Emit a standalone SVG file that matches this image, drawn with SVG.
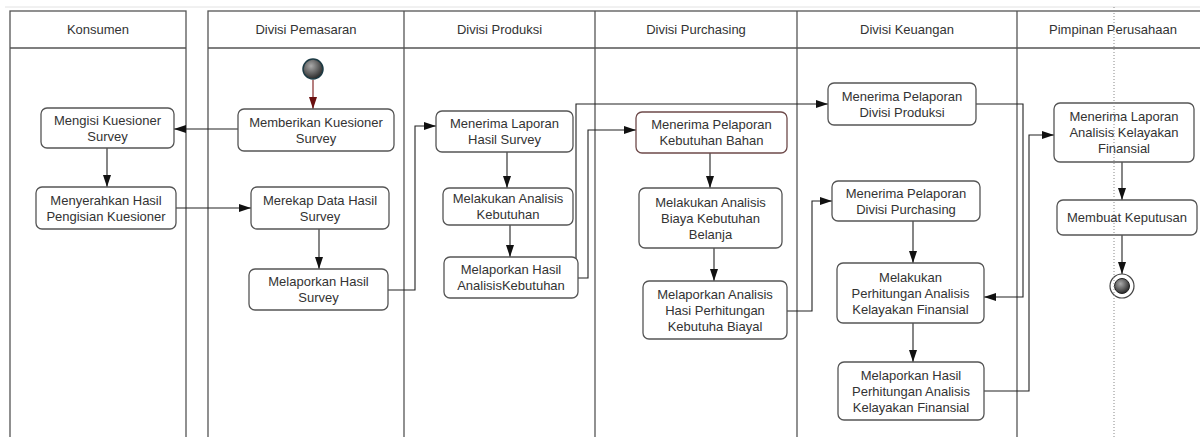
<svg xmlns="http://www.w3.org/2000/svg" width="1200" height="437" viewBox="0 0 1200 437">
<style>
.lane{fill:none;stroke:#555;stroke-width:1.3}
.node rect{fill:#fff;stroke:#555;stroke-width:1.3}
text{font-family:"Liberation Sans",Arial,sans-serif;font-size:13px;fill:#333;text-anchor:middle}
.con{fill:none;stroke:#222;stroke-width:1.1}
</style>
<defs>
<marker id="arr" markerUnits="userSpaceOnUse" markerWidth="13" markerHeight="9" refX="12" refY="4" orient="auto"><path d="M0,0 L12,4 L0,8 z" fill="#111"/></marker>
<marker id="arrR" markerUnits="userSpaceOnUse" markerWidth="13" markerHeight="9" refX="12" refY="4" orient="auto"><path d="M0,0 L12,4 L0,8 z" fill="#6b1010"/></marker>
<radialGradient id="ball" cx="0.4" cy="0.35" r="0.7"><stop offset="0" stop-color="#aaa"/><stop offset="1" stop-color="#222"/></radialGradient>
</defs>
<rect width="1200" height="437" fill="#fff"/>
<line x1="5" y1="7" x2="1200" y2="7" stroke="#e2e2e2" stroke-width="1"/>
<g id="lanes">
<rect class="lane" x="10" y="11" width="176" height="430"/>
<line class="lane" x1="10" y1="48" x2="186" y2="48"/>
<rect class="lane" x="208" y="11" width="1005" height="430"/>
<line class="lane" x1="208" y1="48" x2="1213" y2="48"/>
<line class="lane" x1="404" y1="11" x2="404" y2="441"/>
<line class="lane" x1="595" y1="11" x2="595" y2="441"/>
<line class="lane" x1="797" y1="11" x2="797" y2="441"/>
<line class="lane" x1="1017" y1="11" x2="1017" y2="441"/>
<text x="98" y="34">Konsumen</text>
<text x="306" y="34">Divisi Pemasaran</text>
<text x="499.5" y="34">Divisi Produksi</text>
<text x="696" y="34">Divisi Purchasing</text>
<text x="907" y="34">Divisi Keuangan</text>
<text x="1113" y="34">Pimpinan Perusahaan</text>
</g>
<g id="connectors">
<path class="con" d="M313,80 V109" stroke="#6b1010" style="stroke:#7a1515" marker-end="url(#arrR)"/>
<path class="con" d="M238,129 H174" marker-end="url(#arr)"/>
<path class="con" d="M107,148 V187" marker-end="url(#arr)"/>
<path class="con" d="M176,208 H251" marker-end="url(#arr)"/>
<path class="con" d="M319,229 V269" marker-end="url(#arr)"/>
<path class="con" d="M388,290 H415 V126 H436" marker-end="url(#arr)"/>
<path class="con" d="M507,152 V188" marker-end="url(#arr)"/>
<path class="con" d="M510,225 V257" marker-end="url(#arr)"/>
<path class="con" d="M578,278 H588 V130 H636" marker-end="url(#arr)"/>
<path class="con" d="M576,262 V104 H828" marker-end="url(#arr)"/>
<path class="con" d="M710,153 V188" marker-end="url(#arr)"/>
<path class="con" d="M714,248 V281" marker-end="url(#arr)"/>
<path class="con" d="M787,311 H812 V201 H832" marker-end="url(#arr)"/>
<path class="con" d="M976,104 H1023 V297 H984" marker-end="url(#arr)"/>
<path class="con" d="M913,221 V263" marker-end="url(#arr)"/>
<path class="con" d="M913,323 V362" marker-end="url(#arr)"/>
<path class="con" d="M984,391 H1029 V135 H1054" marker-end="url(#arr)"/>
<path class="con" d="M1122,162 V200" marker-end="url(#arr)"/>
<path class="con" d="M1122,235 V274" marker-end="url(#arr)"/>
</g>
<g id="start"><circle cx="313" cy="69" r="10" fill="url(#ball)" stroke="#1c3a44" stroke-width="1.5"/></g>
<g id="n1" class="node"><rect x="41" y="108" width="133" height="40" rx="6"/><text x="107.5" y="124.5">Mengisi Kuesioner<tspan x="107.5" dy="16">Survey</tspan></text></g>
<g id="n2" class="node"><rect x="36" y="187" width="140" height="42" rx="6"/><text x="106" y="204.5">Menyerahkan Hasil<tspan x="106" dy="16">Pengisian Kuesioner</tspan></text></g>
<g id="n3" class="node"><rect x="238" y="109" width="156" height="42" rx="6"/><text x="316" y="126.5">Memberikan Kuesioner<tspan x="316" dy="16">Survey</tspan></text></g>
<g id="n4" class="node"><rect x="251" y="187" width="138" height="42" rx="6"/><text x="320" y="204.5">Merekap Data Hasil<tspan x="320" dy="16">Survey</tspan></text></g>
<g id="n5" class="node"><rect x="249" y="269" width="139" height="41" rx="6"/><text x="318.5" y="286">Melaporkan Hasil<tspan x="318.5" dy="16">Survey</tspan></text></g>
<g id="n6" class="node"><rect x="436" y="111" width="137" height="41" rx="6"/><text x="504.5" y="128">Menerima Laporan<tspan x="504.5" dy="16">Hasil Survey</tspan></text></g>
<g id="n7" class="node"><rect x="443" y="188" width="130" height="37" rx="6"/><text x="508" y="203">Melakukan Analisis<tspan x="508" dy="16">Kebutuhan</tspan></text></g>
<g id="n8" class="node"><rect x="444" y="257" width="134" height="41" rx="6"/><text x="511" y="274">Melaporkan Hasil<tspan x="511" dy="16">AnalisisKebutuhan</tspan></text></g>
<g id="n9" class="node"><rect x="636" y="112" width="151" height="41" rx="6" style="stroke:#6e4a4a"/><text x="711.5" y="129">Menerima Pelaporan<tspan x="711.5" dy="16">Kebutuhan Bahan</tspan></text></g>
<g id="n10" class="node"><rect x="639" y="188" width="143" height="60" rx="6"/><text x="710.5" y="206.5">Melakukan Analisis<tspan x="710.5" dy="16">Biaya Kebutuhan</tspan><tspan x="710.5" dy="16">Belanja</tspan></text></g>
<g id="n11" class="node"><rect x="643" y="281" width="144" height="58" rx="6"/><text x="715" y="298.5">Melaporkan Analisis<tspan x="715" dy="16">Hasi Perhitungan</tspan><tspan x="715" dy="16">Kebutuha Biayal</tspan></text></g>
<g id="n12" class="node"><rect x="828" y="83" width="148" height="42" rx="6"/><text x="902" y="100.5">Menerima Pelaporan<tspan x="902" dy="16">Divisi Produksi</tspan></text></g>
<g id="n13" class="node"><rect x="832" y="181" width="148" height="40" rx="6"/><text x="906" y="197.5">Menerima Pelaporan<tspan x="906" dy="16">Divisi Purchasing</tspan></text></g>
<g id="n14" class="node"><rect x="837" y="263" width="147" height="60" rx="6"/><text x="910.5" y="281.5">Melakukan<tspan x="910.5" dy="16">Perhitungan Analisis</tspan><tspan x="910.5" dy="16">Kelayakan Finansial</tspan></text></g>
<g id="n15" class="node"><rect x="838" y="362" width="146" height="58" rx="6"/><text x="911" y="379.5">Melaporkan Hasil<tspan x="911" dy="16">Perhitungan Analisis</tspan><tspan x="911" dy="16">Kelayakan Finansial</tspan></text></g>
<g id="n16" class="node"><rect x="1054" y="103" width="140" height="59" rx="6"/><text x="1124" y="121">Menerima Laporan<tspan x="1124" dy="16">Analisis Kelayakan</tspan><tspan x="1124" dy="16">Finansial</tspan></text></g>
<g id="n17" class="node"><rect x="1057" y="200" width="140" height="35" rx="6"/><text x="1127" y="222">Membuat Keputusan</text></g>
<g id="end"><circle cx="1122" cy="286" r="12" fill="#fff" stroke="#444" stroke-width="1.2"/><circle cx="1122" cy="286" r="7.5" fill="url(#ball)" stroke="#222" stroke-width="1"/></g>
<line x1="1114" y1="7" x2="1114" y2="437" stroke="#888" stroke-width="1" stroke-dasharray="1,2"/>
</svg>
